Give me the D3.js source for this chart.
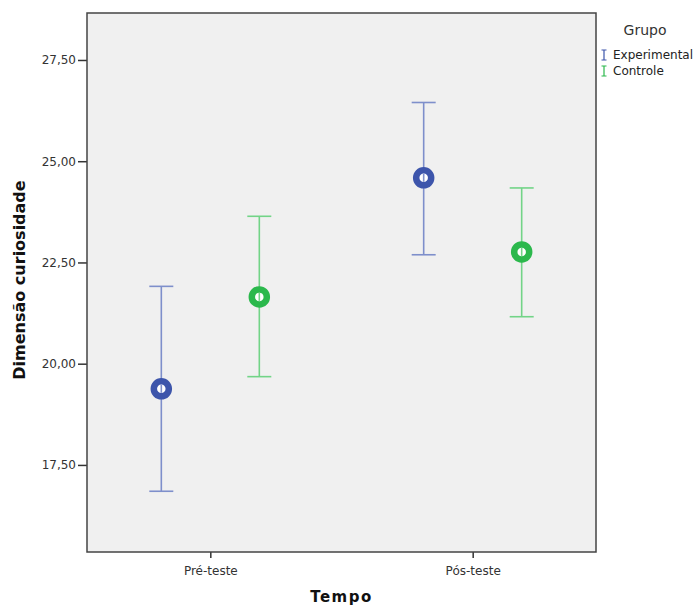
<!DOCTYPE html>
<html lang="pt">
<head>
  <meta charset="UTF-8">
  <script src="https://cdn.jsdelivr.net/npm/d3@7"></script>
  <title>Dimensão curiosidade</title>
  <style>
    * { margin: 0; padding: 0; }
    html, body { width: 100%; height: 100%; background-color: #fff; }
    text { font-family: "DejaVu Sans", Arial, sans-serif; }
  </style>
</head>
<body>
<div id="box"></div>
<script>
  // dados
  var categories = ['Pré-teste', 'Pós-teste']
  var groups = ['Experimental', 'Controle']
  var means = {
    'Experimental': [19.38, 24.59],
    'Controle': [21.65, 22.76]
  }
  var lower = {
    'Experimental': [16.85, 22.69],
    'Controle': [19.68, 21.16]
  }
  var upper = {
    'Experimental': [21.91, 26.45],
    'Controle': [23.64, 24.34]
  }
  var yTicks = [17.5, 20, 22.5, 25, 27.5]

  var markColor = { 'Experimental': '#3d55ab', 'Controle': '#2bb84c' }
  var barColor = { 'Experimental': '#7e8fcb', 'Controle': '#72d487' }

  var width = 694
  var height = 607
  // ("top" é reservado no window, por isso os nomes com "plot")
  var plotL = 87, plotR = 596, plotT = 13, plotB = 552

  var svg = d3.select('#box')
    .append('svg')
    .attr('width', width)
    .attr('height', height)

  // área do gráfico
  svg.append('rect')
    .attr('x', plotL).attr('y', plotT)
    .attr('width', plotR - plotL).attr('height', plotB - plotT)
    .attr('fill', '#f0f0f0')

  // escalas
  var x = d3.scalePoint()
    .domain(categories)
    .range([plotL, plotR])
    .padding(0.47)

  var offset = d3.scalePoint()
    .domain(groups)
    .range([-49, 49])

  var y = d3.scaleLinear()
    .domain([15.35, 28.66])
    .range([plotB, plotT])

  // eixos
  var yaxis = d3.axisLeft(y)
    .tickValues(yTicks)
    .tickSize(9)
    .tickFormat(function (d) { return d3.format('.2f')(d).replace('.', ',') })

  var gy = svg.append('g')
    .attr('transform', 'translate(' + plotL + ',0)')
    .call(yaxis)
  gy.select('.domain').remove()
  gy.selectAll('line').attr('stroke', '#333').attr('stroke-width', 1.5)
  gy.selectAll('text').attr('font-size', 12).attr('fill', '#333').attr('x', -11)

  var xaxis = d3.axisBottom(x).tickSize(6)
  var gx = svg.append('g')
    .attr('transform', 'translate(0,' + plotB + ')')
    .call(xaxis)
  gx.select('.domain').remove()
  gx.selectAll('line').attr('stroke', '#333').attr('stroke-width', 1.5)
  gx.selectAll('text').attr('font-size', 12).attr('fill', '#333').attr('dy', '1.15em')

  // moldura
  svg.append('rect')
    .attr('x', plotL).attr('y', plotT)
    .attr('width', plotR - plotL).attr('height', plotB - plotT)
    .attr('fill', 'none')
    .attr('stroke', '#444')
    .attr('stroke-width', 1.5)

  // barras de erro e médias
  groups.forEach(function (g) {
    var cx = function (d, i) { return x(categories[i]) + offset(g) }
    var grp = svg.append('g')

    grp.selectAll('line.bar')
      .data(means[g])
      .enter().append('line')
      .attr('x1', cx).attr('x2', cx)
      .attr('y1', function (d, i) { return y(lower[g][i]) })
      .attr('y2', function (d, i) { return y(upper[g][i]) })
      .attr('stroke', barColor[g]).attr('stroke-width', 1.6)

    ;['lo', 'hi'].forEach(function (k) {
      grp.selectAll('line.cap' + k)
        .data(means[g])
        .enter().append('line')
        .attr('x1', function (d, i) { return cx(d, i) - 12 })
        .attr('x2', function (d, i) { return cx(d, i) + 12 })
        .attr('y1', function (d, i) { return y(k === 'lo' ? lower[g][i] : upper[g][i]) })
        .attr('y2', function (d, i) { return y(k === 'lo' ? lower[g][i] : upper[g][i]) })
        .attr('stroke', barColor[g]).attr('stroke-width', 1.6)
    })

    grp.selectAll('circle')
      .data(means[g])
      .enter().append('circle')
      .attr('cx', cx)
      .attr('cy', function (d) { return y(d) })
      .attr('r', 7.5)
      .attr('fill', '#fff')
      .attr('stroke', markColor[g])
      .attr('stroke-width', 6.5)

    grp.selectAll('line.mid')
      .data(means[g])
      .enter().append('line')
      .attr('x1', cx).attr('x2', cx)
      .attr('y1', function (d) { return y(d) - 4 })
      .attr('y2', function (d) { return y(d) + 4 })
      .attr('stroke', barColor[g]).attr('stroke-width', 1.6)
  })

  // títulos dos eixos
  svg.append('text')
    .attr('x', (plotL + plotR) / 2)
    .attr('y', 602)
    .attr('text-anchor', 'middle')
    .attr('font-size', 15)
    .attr('font-weight', 'bold')
    .attr('letter-spacing', 1.5)
    .attr('fill', '#111')
    .text('Tempo')

  svg.append('text')
    .attr('transform', 'translate(25,280) rotate(-90)')
    .attr('text-anchor', 'middle')
    .attr('font-size', 16)
    .attr('font-weight', 'bold')
    .attr('fill', '#111')
    .text('Dimensão curiosidade')

  // legenda
  svg.append('text')
    .attr('x', 645).attr('y', 35)
    .attr('text-anchor', 'middle')
    .attr('font-size', 14)
    .attr('fill', '#333')
    .text('Grupo')

  var leg = svg.selectAll('g.leg')
    .data(groups)
    .enter().append('g')
    .attr('transform', function (d, i) { return 'translate(604,' + (55 + i * 16) + ')' })

  leg.append('path')
    .attr('d', 'M-2.5,-5H2.5M0,-5V5M-2.5,5H2.5')
    .attr('stroke', function (d) { return markColor[d] })
    .attr('stroke-width', 1.2)
    .attr('fill', 'none')

  leg.append('text')
    .attr('x', 9).attr('y', 4)
    .attr('font-size', 12)
    .attr('fill', '#222')
    .text(function (d) { return d })
</script>
</body>
</html>
